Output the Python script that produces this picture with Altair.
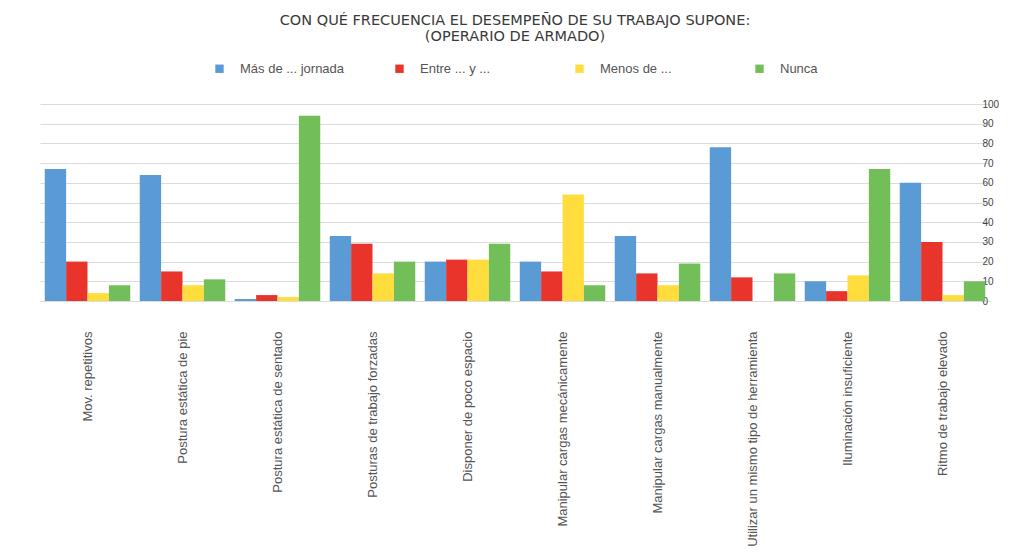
import altair as alt
import pandas as pd

categories = [
    "Mov. repetitivos",
    "Postura estática de pie",
    "Postura estática de sentado",
    "Posturas de trabajo forzadas",
    "Disponer de poco espacio",
    "Manipular cargas mecánicamente",
    "Manipular cargas manualmente",
    "Utilizar un mismo tipo de herramienta",
    "Iluminación insuficiente",
    "Ritmo de trabajo elevado",
]
series = ["Más de ... jornada", "Entre ... y ...", "Menos de ...", "Nunca"]
mas_de = [67, 64, 1, 33, 20, 20, 33, 78, 10, 60]
entre = [20, 15, 3, 29, 21, 15, 14, 12, 5, 30]
menos_de = [4, 8, 2, 14, 21, 54, 8, 0, 13, 3]
nunca = [8, 11, 94, 20, 29, 8, 19, 14, 67, 10]
colors = ["#5B9BD5", "#E8342B", "#FFDD3C", "#72BF5A"]
y_ticks = [0, 10, 20, 30, 40, 50, 60, 70, 80, 90, 100]

rows = []
for s, vals in zip(series, [mas_de, entre, menos_de, nunca]):
    for c, v in zip(categories, vals):
        rows.append({"cat": c, "serie": s, "valor": v})
df = pd.DataFrame(rows)

font = "Liberation Sans"

chart = alt.Chart(df).mark_bar().encode(
    x=alt.X("cat:N", sort=categories, title=None,
            scale=alt.Scale(paddingInner=0.1, paddingOuter=0.05),
            axis=alt.Axis(labelAngle=270, labelFontSize=13, labelColor="#555",
                          labelFont=font, labelPadding=30, domain=False,
                          ticks=False, labelLimit=300)),
    xOffset=alt.XOffset("serie:N", sort=series, scale=alt.Scale(paddingInner=0, paddingOuter=0)),
    y=alt.Y("valor:Q", title=None,
            scale=alt.Scale(domain=[0, 100], nice=False),
            axis=alt.Axis(orient="right", values=y_ticks, labelFontSize=10,
                          labelColor="#444", labelFont=font, domain=False,
                          ticks=False, gridColor="#dcdcdc", labelPadding=-8)),
    color=alt.Color("serie:N", sort=series,
                    scale=alt.Scale(domain=series, range=colors),
                    legend=alt.Legend(title=None, orient="none", direction="horizontal",
                                      columns=4, gridAlign="all", columnPadding=48,
                                      legendX=173, legendY=-42, symbolType="square",
                                      symbolSize=70, labelFontSize=13, labelFont=font,
                                      labelOffset=14, labelColor="#555",
                                      symbolStrokeWidth=0)),
).properties(
    width=950,
    height=197,
    padding={"left": 32, "top": 96, "right": 30, "bottom": 250},
    autosize=alt.AutoSizeParams(type="none"),
    title=alt.TitleParams(
        ["CON QUÉ FRECUENCIA EL DESEMPEÑO DE SU TRABAJO SUPONE:", "(OPERARIO DE ARMADO)"],
        anchor="middle", fontSize=14.5, font="DejaVu Sans", fontWeight="normal",
        color="#3a3a3a", offset=18, lineHeight=16,
    ),
).configure_view(stroke=None)

chart.save("out.html", embed_options={"renderer": "svg", "actions": False})
